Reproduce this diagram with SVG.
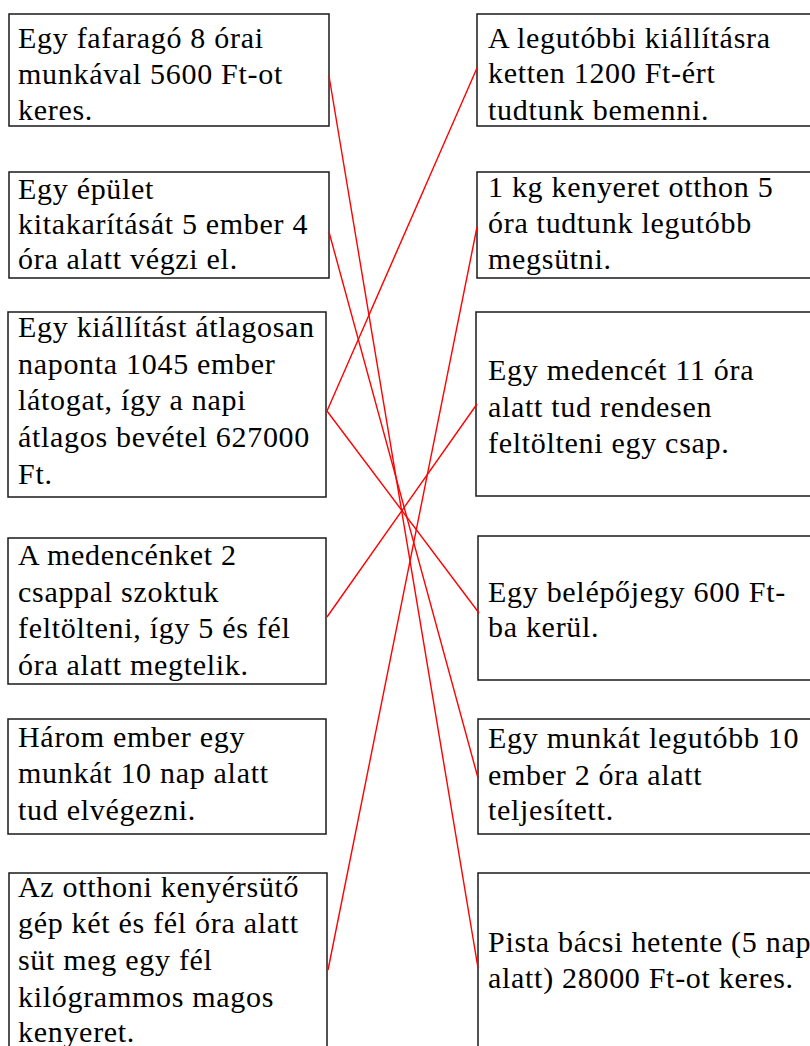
<svg xmlns="http://www.w3.org/2000/svg" width="810" height="1046" viewBox="0 0 810 1046">
<style>
.box{fill:#fff;stroke:#1a1a1a;stroke-width:1.5}
.t{font-size:30px;letter-spacing:0.7px;fill:#000}
.c{stroke:#ff0000;stroke-width:1.4;fill:none}
</style>
<rect width="810" height="1046" fill="#fff"/>
<g font-family="Liberation Serif, Times New Roman, serif">
<g id="L1"><rect class="box" x="9" y="14" width="320" height="112"/>
<text class="t" font-family="Liberation Serif, serif"><tspan x="18" y="48">Egy fafaragó 8 órai</tspan><tspan x="18" y="84">munkával 5600 Ft-ot</tspan><tspan x="18" y="120">keres.</tspan></text></g>
<g id="L2"><rect class="box" x="9" y="172" width="320" height="106"/>
<text class="t" font-family="Liberation Serif, serif"><tspan x="18" y="199">Egy épület</tspan><tspan x="18" y="234">kitakarítását 5 ember 4</tspan><tspan x="18" y="269">óra alatt végzi el.</tspan></text></g>
<g id="L3"><rect class="box" x="8" y="312" width="318" height="185"/>
<text class="t" font-family="Liberation Serif, serif"><tspan x="18" y="337">Egy kiállítást átlagosan</tspan><tspan x="18" y="374">naponta 1045 ember</tspan><tspan x="18" y="410">látogat, így a napi</tspan><tspan x="18" y="447">átlagos bevétel 627000</tspan><tspan x="18" y="484">Ft.</tspan></text></g>
<g id="L4"><rect class="box" x="8" y="538" width="318" height="146"/>
<text class="t" font-family="Liberation Serif, serif"><tspan x="18" y="565">A medencénket 2</tspan><tspan x="18" y="602">csappal szoktuk</tspan><tspan x="18" y="638">feltölteni, így 5 és fél</tspan><tspan x="18" y="675">óra alatt megtelik.</tspan></text></g>
<g id="L5"><rect class="box" x="8" y="719" width="318" height="115"/>
<text class="t" font-family="Liberation Serif, serif"><tspan x="18" y="747">Három ember egy</tspan><tspan x="18" y="783">munkát 10 nap alatt</tspan><tspan x="18" y="820">tud elvégezni.</tspan></text></g>
<g id="L6"><rect class="box" x="9" y="873" width="318" height="190"/>
<text class="t" font-family="Liberation Serif, serif"><tspan x="18" y="897">Az otthoni kenyérsütő</tspan><tspan x="18" y="933">gép két és fél óra alatt</tspan><tspan x="18" y="970">süt meg egy fél</tspan><tspan x="18" y="1007">kilógrammos magos</tspan><tspan x="18" y="1042">kenyeret.</tspan></text></g>
<g id="R1"><rect class="box" x="477" y="14" width="340" height="112"/>
<text class="t" font-family="Liberation Serif, serif"><tspan x="488" y="48">A legutóbbi kiállításra</tspan><tspan x="488" y="83">ketten 1200 Ft-ért</tspan><tspan x="488" y="120">tudtunk bemenni.</tspan></text></g>
<g id="R2"><rect class="box" x="477" y="172" width="340" height="106"/>
<text class="t" font-family="Liberation Serif, serif"><tspan x="488" y="197">1 kg kenyeret otthon 5</tspan><tspan x="488" y="233">óra tudtunk legutóbb</tspan><tspan x="488" y="269">megsütni.</tspan></text></g>
<g id="R3"><rect class="box" x="476" y="312" width="340" height="184"/>
<text class="t" font-family="Liberation Serif, serif"><tspan x="488" y="380">Egy medencét 11 óra</tspan><tspan x="488" y="417">alatt tud rendesen</tspan><tspan x="488" y="453">feltölteni egy csap.</tspan></text></g>
<g id="R4"><rect class="box" x="478" y="536" width="340" height="144"/>
<text class="t" font-family="Liberation Serif, serif"><tspan x="488" y="602">Egy belépőjegy 600 Ft-</tspan><tspan x="488" y="637">ba kerül.</tspan></text></g>
<g id="R5"><rect class="box" x="478" y="719" width="340" height="115"/>
<text class="t" font-family="Liberation Serif, serif"><tspan x="488" y="748">Egy munkát legutóbb 10</tspan><tspan x="488" y="785">ember 2 óra alatt</tspan><tspan x="488" y="820">teljesített.</tspan></text></g>
<g id="R6"><rect class="box" x="478" y="873" width="340" height="190"/>
<text class="t" font-family="Liberation Serif, serif"><tspan x="488" y="952">Pista bácsi hetente (5 nap</tspan><tspan x="488" y="988">alatt) 28000 Ft-ot keres.</tspan></text></g>
</g>
<g id="connectors">
<line class="c" x1="329" y1="76" x2="478" y2="968"/>
<line class="c" x1="329" y1="232" x2="478" y2="778"/>
<line class="c" x1="327" y1="411" x2="477" y2="68"/>
<line class="c" x1="327" y1="411" x2="479" y2="613"/>
<line class="c" x1="327" y1="617" x2="477" y2="404"/>
<line class="c" x1="328" y1="970" x2="477" y2="227"/>
</g>
</svg>
